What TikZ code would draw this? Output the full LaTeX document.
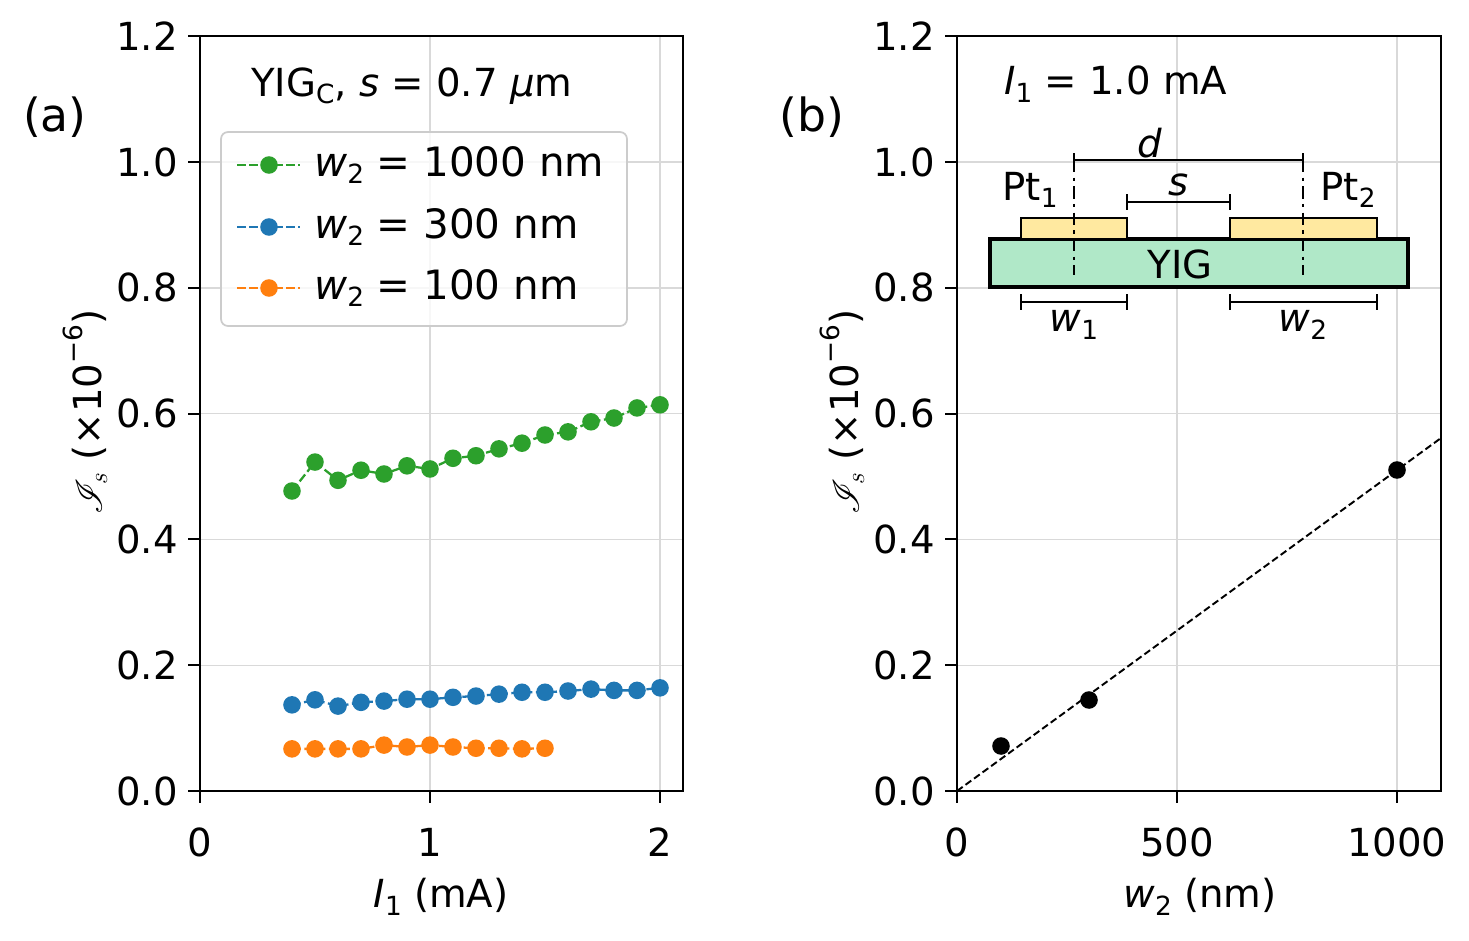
\documentclass[tikz,border=0pt]{standalone}
\usepackage{fontspec}
\usepackage{mathrsfs}
\setmainfont{DejaVu Sans}
\definecolor{mgreen}{HTML}{2CA02C}
\definecolor{mblue}{HTML}{1F77B4}
\definecolor{morange}{HTML}{FF7F0E}
\definecolor{yigfill}{HTML}{B0E8C8}
\definecolor{ptfill}{HTML}{FFE9A0}
\newcommand{\lowidx}[1]{\raisebox{-0.35ex}{\fontsize{15}{16}\selectfont #1}}
\newcommand{\highidx}[1]{\raisebox{0.9ex}{\fontsize{15}{16}\selectfont #1}}
\tikzset{
  every node/.style={font=\fontsize{22}{26}\selectfont},
  gridline/.style={gray!30, line width=0.8pt},
  frame/.style={black, line width=1.1pt},
  tickmark/.style={black, line width=1.1pt},
  dot/.style={circle, fill=#1, inner sep=0pt, minimum size=10pt},
  series/.style={#1, dashed, line width=1.3pt, dash pattern=on 5pt off 2pt},
  bar/.style={line width=1.5pt}
}
\begin{document}
\begin{tikzpicture}[x=0.02cm, y=-0.02cm]
\useasboundingbox (0,0) rectangle (1469,940);
% panel (a): grid, frame, ticks
\foreach \v in {0,1,2} {
  \draw[gridline] ({200+230*\v},36) -- ({200+230*\v},791);
  \draw[tickmark] ({200+230*\v},791) -- ({200+230*\v},803);
  \node[anchor=north] at ({200+230*\v},822) {\v};
}
\foreach \v/\t in {0/0.0,1/0.2,2/0.4,3/0.6,4/0.8,5/1.0,6/1.2} {
  \draw[gridline] (200,{791-125.8*\v}) -- (683,{791-125.8*\v});
  \draw[tickmark] (188,{791-125.8*\v}) -- (200,{791-125.8*\v});
  \node[anchor=east] at (184,{791-125.8*\v}) {\t};
}
% data (a)
\begin{scope}[shift={(200,791)}, xscale=230, yscale=-629]
  \draw[series=mgreen] plot coordinates {(0.4,0.477)(0.5,0.523)(0.6,0.494)(0.7,0.510)(0.8,0.504)(0.9,0.517)(1.0,0.512)(1.1,0.529)(1.2,0.533)(1.3,0.544)(1.4,0.553)(1.5,0.566)(1.6,0.571)(1.7,0.587)(1.8,0.593)(1.9,0.609)(2.0,0.614)};
  \foreach \a/\b in {0.4/0.477,0.5/0.523,0.6/0.494,0.7/0.510,0.8/0.504,0.9/0.517,1.0/0.512,1.1/0.529,1.2/0.533,1.3/0.544,1.4/0.553,1.5/0.566,1.6/0.571,1.7/0.587,1.8/0.593,1.9/0.609,2.0/0.614}
    \node[dot=mgreen] at (\a,\b) {};
  \draw[series=mblue] plot coordinates {(0.4,0.137)(0.5,0.145)(0.6,0.135)(0.7,0.141)(0.8,0.143)(0.9,0.146)(1.0,0.146)(1.1,0.149)(1.2,0.151)(1.3,0.154)(1.4,0.157)(1.5,0.157)(1.6,0.159)(1.7,0.162)(1.8,0.160)(1.9,0.160)(2.0,0.164)};
  \foreach \a/\b in {0.4/0.137,0.5/0.145,0.6/0.135,0.7/0.141,0.8/0.143,0.9/0.146,1.0/0.146,1.1/0.149,1.2/0.151,1.3/0.154,1.4/0.157,1.5/0.157,1.6/0.159,1.7/0.162,1.8/0.160,1.9/0.160,2.0/0.164}
    \node[dot=mblue] at (\a,\b) {};
  \draw[series=morange] plot coordinates {(0.4,0.067)(0.5,0.067)(0.6,0.067)(0.7,0.067)(0.8,0.073)(0.9,0.070)(1.0,0.073)(1.1,0.070)(1.2,0.068)(1.3,0.068)(1.4,0.067)(1.5,0.068)};
  \foreach \a/\b in {0.4/0.067,0.5/0.067,0.6/0.067,0.7/0.067,0.8/0.073,0.9/0.070,1.0/0.073,1.1/0.070,1.2/0.068,1.3/0.068,1.4/0.067,1.5/0.068}
    \node[dot=morange] at (\a,\b) {};
\end{scope}
\draw[frame] (200,36) rectangle (683,791);
% legend
\draw[gray!40, fill=white, fill opacity=0.8, rounded corners=4pt, line width=1pt] (221,132) rectangle (627,326);
\foreach \y/\c/\w in {165/mgreen/1000,227/mblue/300,288/morange/100} {
  \draw[series=\c] (237,\y) -- (300,\y);
  \node[dot=\c] at (269,\y) {};
  \node[anchor=west, font=\fontsize{23}{26}\selectfont] at (308,\y) {\textit{w}\lowidx{2} = \w{} nm};
}
\node[anchor=west] (titleA) at (245,86) {YIG\lowidx{C}, \textit{s} = 0.7 \textit{μ}m};
\node[font=\fontsize{26}{30}\selectfont] (labelA) at (55,117) {(a)};
\node (xlabA) at (441,897) {\textit{I}\lowidx{1} (mA)};
\node[rotate=90] (ylabA) at (85,412) {$\mathscr{I}_s$ (×10\highidx{−6})};
% panel (b): grid, frame, ticks
\foreach \v in {0,500,1000} {
  \draw[gridline] ({957+0.44*\v},36) -- ({957+0.44*\v},791);
  \draw[tickmark] ({957+0.44*\v},791) -- ({957+0.44*\v},803);
  \node[anchor=north] at ({957+0.44*\v},822) {\v};
}
\foreach \v/\t in {0/0.0,1/0.2,2/0.4,3/0.6,4/0.8,5/1.0,6/1.2} {
  \draw[gridline] (957,{791-125.8*\v}) -- (1441,{791-125.8*\v});
  \draw[tickmark] (945,{791-125.8*\v}) -- (957,{791-125.8*\v});
  \node[anchor=east] at (941,{791-125.8*\v}) {\t};
}
\draw[dashed, line width=1.1pt, dash pattern=on 4pt off 2pt] (957,791) -- (1441,438);
\node[dot=black] (p100) at (1001,746) {};
\node[dot=black] (p300) at (1089,700) {};
\node[dot=black] (p1000) at (1397,470) {};
\draw[frame] (957,36) rectangle (1441,791);
\node[anchor=west] (titleB) at (998,84) {\textit{I}\lowidx{1} = 1.0 mA};
\node[font=\fontsize{26}{30}\selectfont] (labelB) at (812,117) {(b)};
\node (xlabB) at (1200,897) {\textit{w}\lowidx{2} (nm)};
\node[rotate=90] (ylabB) at (842,412) {$\mathscr{I}_s$ (×10\highidx{−6})};
% inset
\draw[line width=2pt, fill=yigfill] (990,239) rectangle (1408,287);
\draw[line width=1.5pt, fill=ptfill] (1021,218) rectangle (1127,239);
\draw[line width=1.5pt, fill=ptfill] (1230,218) rectangle (1377,239);
\node (yig) at (1180,264) {YIG};
\draw[bar, dash pattern=on 7pt off 3pt on 2pt off 3pt] (1074,160) -- (1074,275);
\draw[bar, dash pattern=on 7pt off 3pt on 2pt off 3pt] (1303,160) -- (1303,275);
\draw[bar] (1074,160) -- (1303,160) (1074,153) -- (1074,167) (1303,153) -- (1303,167);
\node (dlab) at (1150,143) {\textit{d}};
\draw[bar] (1127,202) -- (1230,202) (1127,194) -- (1127,210) (1230,194) -- (1230,210);
\node (slab) at (1179,185) {\textit{s}};
\draw[bar] (1021,302) -- (1127,302) (1021,294) -- (1021,310) (1127,294) -- (1127,310);
\node (w1lab) at (1074,325) {\textit{w}\lowidx{1}};
\draw[bar] (1230,302) -- (1377,302) (1230,294) -- (1230,310) (1377,294) -- (1377,310);
\node (w2lab) at (1303,325) {\textit{w}\lowidx{2}};
\node (pt1) at (1030,190) {Pt\lowidx{1}};
\node (pt2) at (1348,190) {Pt\lowidx{2}};
\end{tikzpicture}
\end{document}
